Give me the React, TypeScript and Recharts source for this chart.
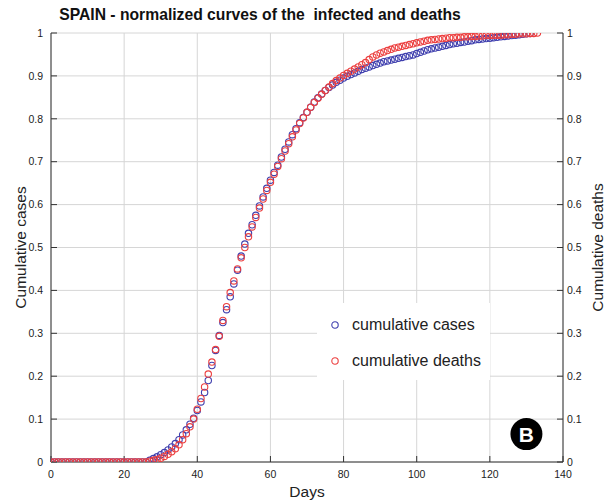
import React from 'react';
import { ScatterChart, Scatter, XAxis, YAxis, CartesianGrid, Legend, ReferenceDot } from 'recharts';

const TITLE = 'SPAIN - normalized curves of the  infected and deaths';
const SERIES_NAMES = ['cumulative cases', 'cumulative deaths'];
const X_LABEL = 'Days';
const Y_LABEL_LEFT = 'Cumulative cases';
const Y_LABEL_RIGHT = 'Cumulative deaths';
const BADGE = 'B';

// cumulative cases, normalized (index = day)
const casesValues = [
  0, 0, 0, 0, 0, 0, 0, 0, 0, 0,
  0, 0, 0, 0, 0, 0, 0, 0, 0, 0,
  0, 0, 0, 0, 0, 0, 0, 0.004, 0.008, 0.012,
  0.017, 0.022, 0.028, 0.035, 0.043, 0.052, 0.063, 0.075, 0.088, 0.102,
  0.12, 0.14, 0.162, 0.19, 0.225, 0.26, 0.295, 0.325, 0.355, 0.385,
  0.415, 0.447, 0.48, 0.508, 0.533, 0.553, 0.575, 0.597, 0.618, 0.638,
  0.657, 0.675, 0.692, 0.711, 0.729, 0.746, 0.763, 0.777, 0.791, 0.803,
  0.815, 0.827, 0.839, 0.849, 0.858, 0.866, 0.873, 0.879, 0.885, 0.89,
  0.895, 0.899, 0.903, 0.907, 0.911, 0.915, 0.918, 0.921, 0.924, 0.927,
  0.93, 0.933, 0.935, 0.937, 0.939, 0.941, 0.943, 0.945, 0.947, 0.949,
  0.952, 0.955, 0.958, 0.961, 0.963, 0.965, 0.967, 0.969, 0.971, 0.973,
  0.975, 0.976, 0.978, 0.979, 0.981, 0.982, 0.984, 0.985, 0.986, 0.987,
  0.988, 0.989, 0.99, 0.991, 0.992, 0.993, 0.994, 0.995, 0.996, 0.997,
  0.998, 0.999,
];

// cumulative deaths, normalized (index = day)
const deathsValues = [
  0, 0, 0, 0, 0, 0, 0, 0, 0, 0,
  0, 0, 0, 0, 0, 0, 0, 0, 0, 0,
  0, 0, 0, 0, 0, 0, 0, 0.002, 0.004, 0.006,
  0.009, 0.013, 0.018, 0.024, 0.031, 0.04, 0.052, 0.066, 0.082, 0.1,
  0.123, 0.148, 0.175, 0.205, 0.233, 0.262, 0.293, 0.33, 0.362, 0.395,
  0.422, 0.45, 0.476, 0.5, 0.525, 0.548, 0.57, 0.592, 0.613, 0.633,
  0.652, 0.671, 0.689, 0.707, 0.725, 0.742, 0.758, 0.774, 0.789, 0.802,
  0.815, 0.827, 0.838, 0.848, 0.857, 0.866, 0.874, 0.882, 0.889, 0.895,
  0.901, 0.906, 0.911, 0.916, 0.921, 0.926, 0.931, 0.938, 0.944, 0.949,
  0.953, 0.956, 0.959, 0.962, 0.965, 0.967, 0.969, 0.971, 0.973, 0.975,
  0.977, 0.979, 0.981, 0.983, 0.984, 0.985, 0.986, 0.987, 0.988, 0.989,
  0.989, 0.99, 0.99, 0.991, 0.991, 0.992, 0.992, 0.993, 0.993, 0.994,
  0.994, 0.995, 0.995, 0.995, 0.996, 0.996, 0.997, 0.997, 0.998, 0.998,
  0.998, 0.999, 0.999, 1.0,
];

const xTicks = [0, 20, 40, 60, 80, 100, 120, 140];
const yTicks = [0, 0.1, 0.2, 0.3, 0.4, 0.5, 0.6, 0.7, 0.8, 0.9, 1];
const xMinorTicks = Array.from({ length: 29 }, (_, i) => i * 5);
const yMinorTicks = Array.from({ length: 51 }, (_, i) => Math.round(i * 2) / 100);

const casesData = casesValues.map((v, i) => ({ day: i, value: v }));
const deathsData = deathsValues.map((v, i) => ({ day: i, value: v }));

const BLUE = '#3f3fae';
const RED = '#ec3f3f';
const AXIS = '#333';
const FONT = '"Liberation Sans", Arial, Helvetica, sans-serif';

const ring = (color: string) => (props: any) => (
  <circle cx={props.cx} cy={props.cy} r={3.2} fill="none" stroke={color} strokeWidth={1.1} />
);
const nothing = () => <g />;

const LegendBox = () => (
  <div style={{ position: 'relative', width: 173, height: 77, background: '#fff', fontFamily: FONT }}>
    {[BLUE, RED].map((c, i) => (
      <div key={i} style={{ position: 'absolute', left: 0, top: 12 + i * 36, height: 20, display: 'flex', alignItems: 'center' }}>
        <svg width={10} height={10} style={{ marginLeft: 13 }}>
          <circle cx={5} cy={5} r={3.2} fill="none" stroke={c} strokeWidth={1.1} />
        </svg>
        <span style={{ marginLeft: 12, fontSize: 16, lineHeight: '20px', color: '#222', whiteSpace: 'nowrap' }}>{SERIES_NAMES[i]}</span>
      </div>
    ))}
  </div>
);

const tickStyle = { fontSize: 10.5, fill: '#222', fontFamily: FONT };
const labelStyle = { fontSize: 15.5, fill: '#222', fontFamily: FONT, textAnchor: 'middle' as const };

export default function App() {
  return (
    <div style={{ position: 'absolute', left: 0, top: 0, width: 616, height: 503, background: '#fff' }}>
      <div style={{ position: 'absolute', left: 0, top: 5, width: 520, textAlign: 'center', fontFamily: FONT, fontWeight: 'bold', fontSize: 15.7, lineHeight: '20px', color: '#111', zIndex: 2, whiteSpace: 'pre' }}>
        {TITLE}
      </div>
      <ScatterChart width={616} height={503} margin={{ top: 33, right: 0, bottom: 0, left: 0 }} style={{ fontFamily: FONT }}>
        <CartesianGrid xAxisId="x" yAxisId="y" stroke="#d6d6d6" strokeWidth={1} />
        <XAxis
          xAxisId="x" dataKey="day" type="number" domain={[0, 140]} allowDataOverflow ticks={xTicks} interval={0}
          height={41} tickSize={-6} tickMargin={15}
          axisLine={{ stroke: AXIS }} tickLine={{ stroke: AXIS }} tick={tickStyle}
          label={{ value: X_LABEL, position: 'insideBottom', offset: 6, style: labelStyle }}
        />
        <XAxis
          xAxisId="xm" dataKey="day" type="number" domain={[0, 140]} allowDataOverflow ticks={xMinorTicks} interval={0}
          height={0} tickSize={-3} tick={false} axisLine={false} tickLine={{ stroke: AXIS }}
        />
        <XAxis
          xAxisId="xt" dataKey="day" orientation="top" type="number" domain={[0, 140]} allowDataOverflow ticks={xTicks} interval={0}
          height={0} tickSize={-6} tick={false} axisLine={{ stroke: AXIS }} tickLine={{ stroke: AXIS }}
        />
        <XAxis
          xAxisId="xtm" dataKey="day" orientation="top" type="number" domain={[0, 140]} allowDataOverflow ticks={xMinorTicks} interval={0}
          height={0} tickSize={-3} tick={false} axisLine={false} tickLine={{ stroke: AXIS }}
        />
        <YAxis
          yAxisId="y" dataKey="value" type="number" domain={[0, 1]} allowDataOverflow ticks={yTicks} interval={0}
          width={51} tickSize={-6} tickMargin={14}
          axisLine={{ stroke: AXIS }} tickLine={{ stroke: AXIS }} tick={tickStyle}
          label={{ value: Y_LABEL_LEFT, angle: -90, position: 'insideLeft', offset: 20, style: labelStyle }}
        />
        <YAxis
          yAxisId="ym" dataKey="value" type="number" domain={[0, 1]} allowDataOverflow ticks={yMinorTicks} interval={0}
          width={0} tickSize={-3} tick={false} axisLine={false} tickLine={{ stroke: AXIS }}
        />
        <YAxis
          yAxisId="yr" dataKey="value" orientation="right" type="number" domain={[0, 1]} allowDataOverflow ticks={yTicks} interval={0}
          width={53} tickSize={-6} tickMargin={10}
          axisLine={{ stroke: AXIS }} tickLine={{ stroke: AXIS }} tick={tickStyle}
          label={{ value: Y_LABEL_RIGHT, angle: -90, position: 'insideRight', offset: 19, style: labelStyle }}
        />
        <YAxis
          yAxisId="yrm" dataKey="value" orientation="right" type="number" domain={[0, 1]} allowDataOverflow ticks={yMinorTicks} interval={0}
          width={0} tickSize={-3} tick={false} axisLine={false} tickLine={{ stroke: AXIS }}
        />
        <Scatter data={casesData} xAxisId="xm" yAxisId="ym" shape={nothing} legendType="none" isAnimationActive={false} />
        <Scatter data={casesData} xAxisId="xtm" yAxisId="yrm" shape={nothing} legendType="none" isAnimationActive={false} />
        <Scatter name={SERIES_NAMES[0]} data={casesData} xAxisId="x" yAxisId="y" fill={BLUE} shape={ring(BLUE)} isAnimationActive={false} />
        <Scatter name={SERIES_NAMES[1]} data={deathsData} xAxisId="xt" yAxisId="yr" fill={RED} shape={ring(RED)} isAnimationActive={false} />
        <ReferenceDot
          xAxisId="x" yAxisId="y" x={130} y={0.065} r={16} fill="#000" stroke="none"
          label={{ value: BADGE, position: 'center', fill: '#fff', fontSize: 21, fontWeight: 'bold', fontFamily: FONT }}
        />
        <Legend
          layout="vertical" align="center" verticalAlign="middle"
          wrapperStyle={{ position: 'absolute', left: 317, top: 303, width: 173, height: 77 }}
          content={() => <LegendBox />}
        />
      </ScatterChart>
    </div>
  );
}
